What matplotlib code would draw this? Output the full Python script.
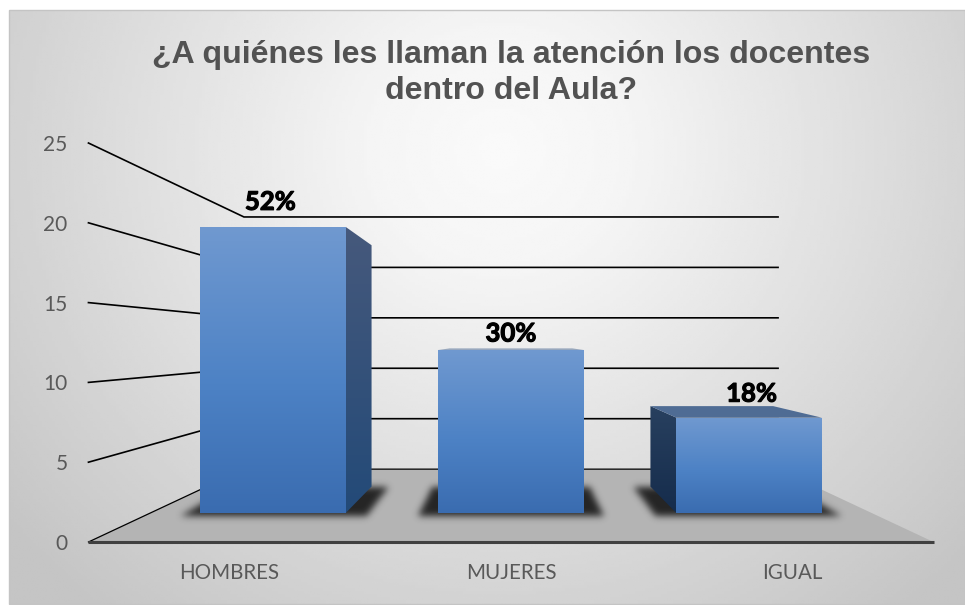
import numpy as np
import matplotlib
matplotlib.use('Agg')
import matplotlib.pyplot as plt
import matplotlib.patheffects as pe
from matplotlib.patches import Polygon, Rectangle

# data
title = '¿A quiénes les llaman la atención los docentes\ndentro del Aula?'
categories = ['HOMBRES', 'MUJERES', 'IGUAL']
values = [21, 12, 7]
labels = ['52%', '30%', '18%']
y_ticks = [0, 5, 10, 15, 20, 25]

# perspective of the 3D chart, in pixels
VX, VY = 511, 344       # vanishing point
FRONT_Y = 542           # floor front edge
CAT_W = 281.7           # width of a category on the front plane
UNIT = 15.96            # pixels per value unit on the front plane
S_WALL = 0.632          # depth of back wall
S_FRONT = 0.854         # bar front face
S_BACK = 0.72           # bar back face
BAR_W = 0.605
BAR_SPREAD = 0.99       # bars sit a bit closer together than the categories
SHADOW_PAD = 0.085


def project(x, v, s=1.0):
    # x is category position (0, 1, 2), v is value, s is depth scale
    px = VX + s * (x - 1) * CAT_W
    py = VY + s * (FRONT_Y - VY - v * UNIT)
    return px, py


def gradient_face(ax, pts, stops, colors, z):
    # fill a polygon with a vertical gradient
    pts = np.array(pts)
    y0, y1 = pts[:, 1].min(), pts[:, 1].max()
    t = np.linspace(0, 1, 128)
    rgb = np.array([matplotlib.colors.to_rgb(c) for c in colors])
    img = np.stack([np.interp(t, stops, rgb[:, i]) for i in range(3)], axis=1)[:, None, :]
    im = ax.imshow(img, extent=(pts[:, 0].min(), pts[:, 0].max(), y1, y0), aspect='auto',
                   zorder=z, interpolation='bilinear')
    clip = Polygon(pts, closed=True, transform=ax.transData)
    im.set_clip_path(clip)


def blurred_shadow(ax, near_l, near_r, far_l, far_r, sigma, peak, z):
    # soft shadow of a floor trapezoid, near/far are (x, y) corners
    pad = int(4 * sigma) + 2
    x0, x1 = int(min(near_l[0], far_l[0])) - pad, int(max(near_r[0], far_r[0])) + pad
    y0, y1 = int(far_l[1]) - pad, int(near_l[1]) + pad
    xs, ys = np.meshgrid(np.arange(x0, x1) + 0.5, np.arange(y0, y1) + 0.5)
    t = (ys - far_l[1]) / (near_l[1] - far_l[1])
    lo = far_l[0] + t * (near_l[0] - far_l[0])
    hi = far_r[0] + t * (near_r[0] - far_r[0])
    mask = ((t >= 0) & (t <= 1) & (xs >= lo) & (xs <= hi)).astype(float)
    k = np.exp(-0.5 * (np.arange(-pad, pad + 1) / sigma) ** 2)
    k /= k.sum()
    mask = np.apply_along_axis(lambda c: np.convolve(c, k, mode='same'), 0, mask)
    mask = np.apply_along_axis(lambda c: np.convolve(c, k, mode='same'), 1, mask)
    rgba = np.zeros(mask.shape + (4,))
    rgba[..., 3] = np.clip(mask * peak, 0, 1)
    ax.imshow(rgba, extent=(x0, x1, y1, y0), aspect='auto', zorder=z, interpolation='bilinear')


fig = plt.figure(figsize=(9.65, 6.05), dpi=100)
ax = fig.add_axes([0, 0, 1, 1])
ax.axis('off')

# chart background, radial gradient
xx, yy = np.meshgrid(np.linspace(9, 965, 300), np.linspace(10, 604, 200))
r = np.sqrt(((xx - 500) / 640) ** 2 + ((yy - 150) / 600) ** 2)
shade = np.interp(r, [0, 0.2, 1.0], [0.98, 0.96, 0.77])
ax.imshow(shade, extent=(9, 965, 604, 10), cmap='gray', vmin=0, vmax=1, aspect='auto', zorder=0)
ax.add_patch(Rectangle((9, 10), 956, 594, fill=False, ec='#c4c4c4', lw=1, zorder=1))

# floor
fl = project(-0.5, 0), project(2.5, 0), project(2.5, 0, S_WALL), project(-0.5, 0, S_WALL)
ax.add_patch(Polygon(fl, closed=True, fc='#b4b4b4', ec='none', zorder=2))

# gridlines on side wall and back wall
for v in y_ticks:
    x0, y0 = project(-0.5, v)
    x1, y1 = project(-0.5, v, S_WALL)
    x2, y2 = project(2.5, v, S_WALL)
    ax.plot([x0, x1, x2], [y0, y1, y2], color='black', lw=1.2 if v > 0 else 0.9, zorder=3,
            solid_joinstyle='miter')

# bars
for i, v in enumerate(values):
    pos = 1 + (i - 1) * BAR_SPREAD
    left, right = pos - BAR_W / 2, pos + BAR_W / 2

    # shadow on the floor
    blurred_shadow(ax, project(left - SHADOW_PAD, -0.25, S_FRONT), project(right + SHADOW_PAD, -0.25, S_FRONT),
                   project(left - SHADOW_PAD, 0, S_BACK), project(right + SHADOW_PAD, 0, S_BACK),
                   3.5, 0.8, 4)

    fl_x, fl_y = project(left, v, S_FRONT)
    fr_x, fr_y = project(right, v, S_FRONT)
    bl_x, bl_y = project(left, 0, S_FRONT)
    br_x, br_y = project(right, 0, S_FRONT)

    # side face, only the one turned to the viewer
    if right < 1:
        side = [project(right, v, S_FRONT), project(right, v, S_BACK),
                project(right, 0, S_BACK), project(right, 0, S_FRONT)]
        gradient_face(ax, side, [0, 1], ['#46597c', '#234a78'], 5)
    if left > 1:
        side = [project(left, v, S_FRONT), project(left, v, S_BACK),
                project(left, 0, S_BACK), project(left, 0, S_FRONT)]
        gradient_face(ax, side, [0, 1], ['#28405f', '#152c4c'], 5)

    # top face, seen only below the vanishing point
    if fl_y > VY:
        top = [project(left, v, S_FRONT), project(right, v, S_FRONT),
               project(right, v, S_BACK), project(left, v, S_BACK)]
        ax.add_patch(Polygon(top, closed=True, fc='#4f6c94', ec='none', zorder=5))

    # front face
    front = [(fl_x, fl_y), (fr_x, fr_y), (br_x, br_y), (bl_x, bl_y)]
    gradient_face(ax, front, [0, 0.55, 1], ['#7099d0', '#4d82c5', '#3a6cb0'], 6)

# data labels, moved up by hand as in the original chart
label_up = [25, 16, 24]
for i, v in enumerate(values):
    px, py = project(i, v, S_FRONT)
    ax.text(px, py - label_up[i], labels[i], ha='center', va='center', fontsize=18.5,
            family='Lato', fontweight='bold', color='black', zorder=7,
            path_effects=[pe.withStroke(linewidth=0.8, foreground='black')])

# axis line
x0, y0 = project(-0.5, 0)
x1, y1 = project(2.5, 0)
ax.plot([x0, x1], [y0, y1], color='#404040', lw=2.2, zorder=7, solid_capstyle='butt')

# tick labels
for v in y_ticks:
    px, py = project(-0.5, v)
    ax.text(px - 21, py + 2, str(v), ha='right', va='center', fontsize=15, family='Lato', color='#595959')
for i, c in enumerate(categories):
    px, py = project(i, 0)
    ax.text(px, py + 31, c, ha='center', va='center', fontsize=14.8, family='Lato', color='#595959')

ax.text(511, 73, title, ha='center', va='center', fontsize=23.1, family='Liberation Sans',
        fontweight='bold', color='#525252', linespacing=1.27, zorder=7)

ax.set_xlim(0, 965)
ax.set_ylim(605, 0)
fig.savefig('out.png', dpi=100, facecolor='white')
